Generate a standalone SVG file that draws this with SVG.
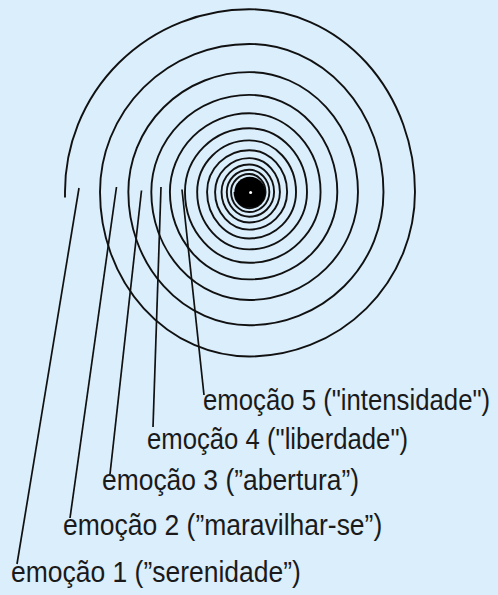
<svg xmlns="http://www.w3.org/2000/svg" width="498" height="595" viewBox="0 0 498 595">
<style>
.sp{fill:none;stroke:#111;stroke-width:1.9;stroke-linecap:butt}
.ld{fill:none;stroke:#111;stroke-width:1.7}
.lb{font-family:"Liberation Sans",Arial,sans-serif;font-size:30px;fill:#1a1a1a}
</style>
<rect width="498" height="595" fill="#daeefc"/>
<g id="spiral">
<path class="sp" d="M65 197.5 L65 192
A184.2 182.79 0 0 1 249.2 9.21
A165.78 182.79 0 0 1 414.98 192
A165.78 164.5 0 0 1 249.2 356.5
A149.2 164.5 0 0 1 100 192
A149.2 148.05 0 0 1 249.2 43.95
A134.28 148.05 0 0 1 383.48 192
A134.28 133.25 0 0 1 249.2 325.25
A120.85 133.25 0 0 1 128.35 192
A120.85 119.92 0 0 1 249.2 72.08
A108.77 119.92 0 0 1 357.97 192
A108.77 107.94 0 0 1 249.2 299.94
A97.89 107.94 0 0 1 151.31 192
A97.89 97.14 0 0 1 249.2 94.86
A88.1 97.14 0 0 1 337.3 192
A88.1 87.42 0 0 1 249.2 279.42
A79.29 87.42 0 0 1 169.91 192
A79.29 78.68 0 0 1 249.2 113.32
A71.36 78.68 0 0 1 320.56 192
A71.36 70.81 0 0 1 249.2 262.81
A64.23 70.81 0 0 1 184.97 192
A64.23 63.73 0 0 1 249.2 128.27
A57.8 63.73 0 0 1 307 192
A57.8 57.36 0 0 1 249.2 249.36
A52.02 57.36 0 0 1 197.18 192
A52.02 51.62 0 0 1 249.2 140.38
A46.82 51.62 0 0 1 296.02 192
A46.82 46.46 0 0 1 249.2 238.46
A42.14 46.46 0 0 1 207.06 192
A42.14 41.82 0 0 1 249.2 150.18
A37.93 41.82 0 0 1 287.13 192
A37.93 37.64 0 0 1 249.2 229.64
A34.13 37.64 0 0 1 215.07 192
A34.13 33.87 0 0 1 249.2 158.13
A30.72 33.87 0 0 1 279.92 192
A30.72 30.48 0 0 1 249.2 222.48
A27.65 30.48 0 0 1 221.55 192
A27.65 27.44 0 0 1 249.2 164.56
A24.88 27.44 0 0 1 274.08 192
A24.88 24.7 0 0 1 249.2 216.7
A22.4 24.7 0 0 1 226.8 192
A22.4 22.22 0 0 1 249.2 169.78
A20.15 22.22 0 0 1 269.35 192
A20.15 20 0 0 1 249.2 212
A18.14 20 0 0 1 231.06 192
A18.14 18 0 0 1 249.2 174
A16.33 18 0 0 1 265.53 192
A16.33 16.2 0 0 1 249.2 208.2
A14.69 16.2 0 0 1 234.51 192"/>
<circle cx="249.8" cy="192.3" r="15.5" fill="#000"/>
<circle cx="250.6" cy="192.6" r="1.5" fill="#fff"/>
</g>
<g id="connectors">
<line class="ld" x1="79" y1="188" x2="17" y2="564"/>
<line class="ld" x1="116.5" y1="187" x2="70" y2="518"/>
<line class="ld" x1="141.5" y1="190.5" x2="110" y2="474"/>
<line class="ld" x1="161" y1="187" x2="153" y2="427"/>
<line class="ld" x1="182" y1="189.5" x2="204" y2="395"/>
</g>
<g id="label5"><text class="lb" transform="translate(203 410) scale(0.858 1)">emoção 5 ("intensidade")</text></g>
<g id="label4"><text class="lb" transform="translate(147 449) scale(0.857 1)">emoção 4 ("liberdade")</text></g>
<g id="label3"><text class="lb" transform="translate(102 490) scale(0.881 1)">emoção 3 (”abertura”)</text></g>
<g id="label2"><text class="lb" transform="translate(63 535) scale(0.883 1)">emoção 2 (”maravilhar-se”)</text></g>
<g id="label1"><text class="lb" transform="translate(11 582) scale(0.883 1)">emoção 1 (”serenidade”)</text></g>
</svg>
